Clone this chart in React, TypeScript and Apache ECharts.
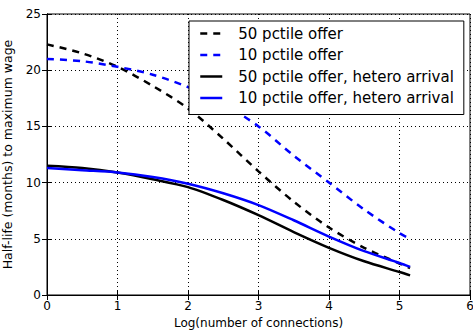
import React, { useEffect, useRef } from "react";
import * as echarts from "echarts";

const xs = [0, 0.5, 1, 1.5, 2, 2.5, 3, 3.5, 4, 4.5, 5, 5.15];
const p50Offer = [22.3, 21.5, 20.3, 18.6, 16.6, 13.9, 11.0, 8.3, 6.0, 4.2, 2.8, 2.4];
const p10Offer = [21.0, 20.8, 20.3, 19.6, 18.5, 17.0, 15.0, 12.4, 10.0, 7.6, 5.5, 5.0];
const p50Hetero = [11.5, 11.3, 10.9, 10.3, 9.6, 8.45, 7.1, 5.6, 4.2, 3.0, 2.05, 1.75];
const p10Hetero = [11.3, 11.1, 10.9, 10.5, 9.9, 9.05, 8.0, 6.65, 5.2, 3.9, 2.85, 2.5];
const seriesNames = [
  "50 pctile offer",
  "10 pctile offer",
  "50 pctile offer, hetero arrival",
  "10 pctile offer, hetero arrival",
];
const xTitle = "Log(number of connections)";
const yTitle = "Half-life (months) to maximum wage";

const FONT = "DejaVu Sans";

function pairs(ys: number[]) {
  return xs.map((x, i) => [x, ys[i]]);
}

export default function App() {
  const ref = useRef<HTMLDivElement>(null);
  useEffect(() => {
    if (!ref.current) return;
    const chart = echarts.init(ref.current, undefined, { renderer: "svg" });
    const grid = {
      left: 47,
      right: 3,
      top: 14,
      bottom: 36,
      show: true,
      borderColor: "#000",
      borderWidth: 1,
      containLabel: false,
      outerBoundsMode: "none",
    };
    const gridLine = { show: true, lineStyle: { color: "#000", type: [1, 3] as any, width: 1 } };
    const tick = { show: true, inside: true, length: 5, lineStyle: { color: "#000" } };
    const mk = (name: string, data: number[], color: string, dashed: boolean) => ({
      name,
      type: "line",
      data: pairs(data),
      showSymbol: false,
      symbol: "none",
      smooth: 0.3,
      lineStyle: { color, width: 2.5, type: dashed ? [7, 6] : "solid" },
      itemStyle: { color },
    });
    chart.setOption({
      animation: false,
      backgroundColor: "#fff",
      grid,
      xAxis: [
        {
          type: "value",
          min: 0,
          max: 6,
          interval: 1,
          name: xTitle,
          nameLocation: "middle",
          nameGap: 22,
          nameTextStyle: { fontFamily: FONT, fontSize: 12, color: "#000" },
          axisLine: { show: true, lineStyle: { color: "#000" } },
          axisTick: tick,
          axisLabel: { fontFamily: FONT, fontSize: 12, color: "#000", margin: 5 },
          splitLine: gridLine,
        },
        {
          type: "value",
          position: "top",
          min: 0,
          max: 6,
          interval: 1,
          axisLine: { show: true, lineStyle: { color: "#000" } },
          axisTick: tick,
          axisLabel: { show: false },
          splitLine: { show: false },
        },
      ],
      yAxis: [
        {
          type: "value",
          min: 0,
          max: 25,
          interval: 5,
          name: yTitle,
          nameLocation: "middle",
          nameGap: 33,
          nameTextStyle: { fontFamily: FONT, fontSize: 12.5, color: "#000" },
          axisLine: { show: true, lineStyle: { color: "#000" } },
          axisTick: tick,
          axisLabel: { fontFamily: FONT, fontSize: 12, color: "#000", margin: 6 },
          splitLine: gridLine,
        },
        {
          type: "value",
          position: "right",
          min: 0,
          max: 25,
          interval: 5,
          axisLine: { show: true, lineStyle: { color: "#000" } },
          axisTick: tick,
          axisLabel: { show: false },
          splitLine: { show: false },
        },
      ],
      legend: {
        orient: "vertical",
        left: 189,
        top: 21,
        padding: [5, 10, 9, 10],
        itemGap: 6.5,
        itemWidth: 22,
        itemHeight: 16,
        backgroundColor: "#fff",
        borderColor: "#000",
        borderWidth: 1,
        itemStyle: { opacity: 0 },
        lineStyle: { width: 2.5 },
        textStyle: { fontFamily: FONT, fontSize: 15, color: "#000", padding: [0, 0, 0, 11] },
        data: seriesNames,
      },
      series: [
        mk(seriesNames[0], p50Offer, "#000", true),
        mk(seriesNames[1], p10Offer, "#0000ff", true),
        mk(seriesNames[2], p50Hetero, "#000", false),
        mk(seriesNames[3], p10Hetero, "#0000ff", false),
      ],
    });
    return () => chart.dispose();
  }, []);
  return (
    <div
      ref={ref}
      style={{ width: 473, height: 331, position: "absolute", left: 0, top: 0 }}
    />
  );
}
